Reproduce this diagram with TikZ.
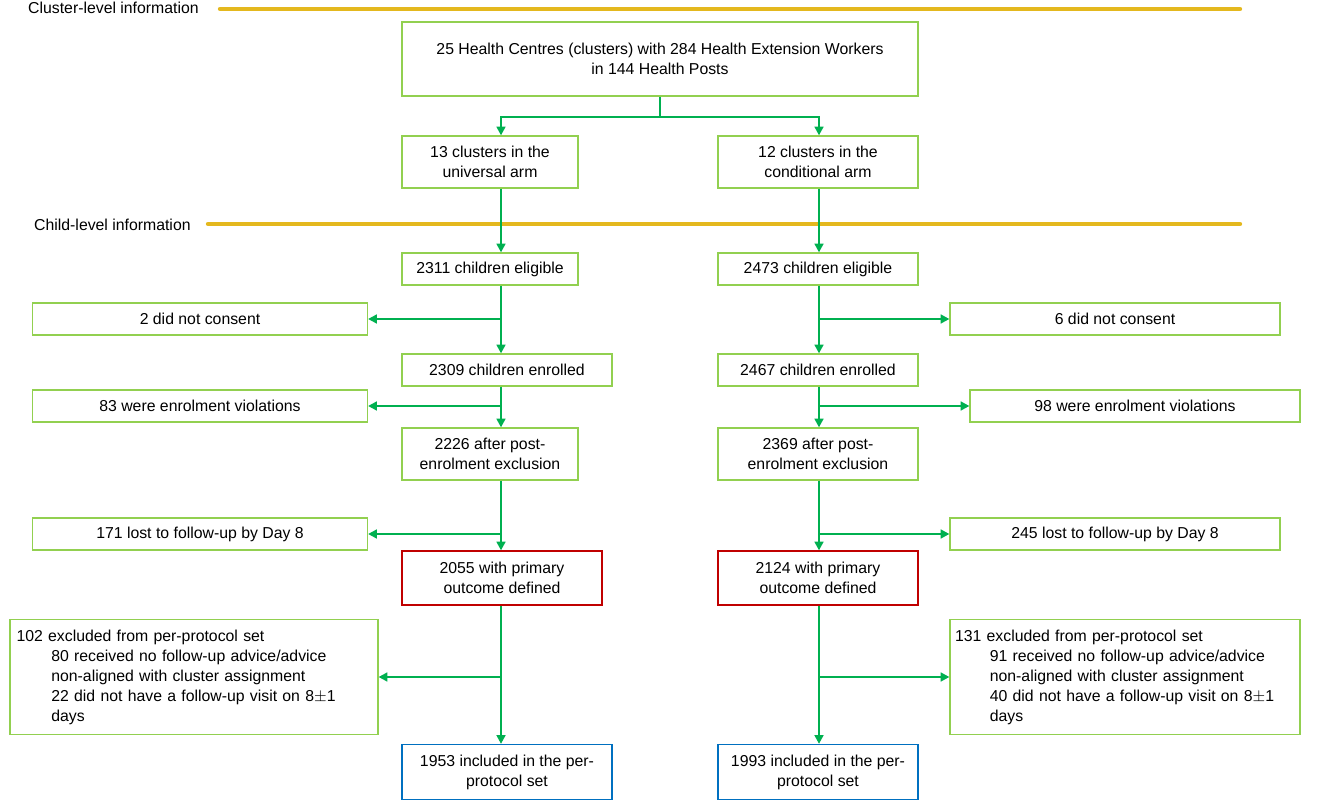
\documentclass[tikz,border=0pt]{standalone}
\usepackage{fontspec}
\setmainfont{Liberation Sans}
\usetikzlibrary{arrows.meta}
\definecolor{bgreen}{RGB}{146,208,80}
\definecolor{agreen}{RGB}{0,176,80}
\definecolor{ylw}{RGB}{228,184,30}
\definecolor{bred}{RGB}{192,0,0}
\definecolor{bblue}{RGB}{0,112,192}
\begin{document}
\begin{tikzpicture}[x=0.02cm,y=-0.02cm,
  every node/.style={font=\fontsize{9}{11.4}\selectfont},
  box/.style={draw=bgreen,line width=0.7pt,inner sep=0pt,align=center},
  rbox/.style={box,draw=bred},
  bbox/.style={box,draw=bblue},
  arr/.style={draw=agreen,line width=1.3pt,-{Triangle[length=5pt,width=5pt]}},
  ln/.style={draw=agreen,line width=1.3pt},
  yl/.style={draw=ylw,line width=2.5pt,line cap=round}]
\useasboundingbox (0,0) rectangle (1323,800);
\newcommand{\bx}[6][box]{\node[#1,minimum width={(#4-#3)*0.02cm},minimum height={(#6-#5)*0.02cm}] (#2) at ({(#3+#4)/2},{(#5+#6)/2}) {#2text};}
% headings
\node[anchor=west] (hc) at (22,8) {Cluster-level information};
\draw[yl] (220,9) -- (1240,9);
\node[anchor=west] (hd) at (28,225) {Child-level information};
\draw[yl] (208,224) -- (1240,224);
\coordinate (L) at (501,0); \coordinate (R) at (819,0);
% boxes
\node[box,minimum width=10.32cm,minimum height=1.48cm] (top) at (660,59) {25 Health Centres (clusters) with 284 Health Extension Workers\\in 144 Health Posts};
\node[box,minimum width=3.52cm,minimum height=1.04cm] (u) at (490,162) {13 clusters in the\\universal arm};
\node[box,minimum width=4cm,minimum height=1.04cm] (c) at (818,162) {12 clusters in the\\conditional arm};
\node[box,minimum width=3.52cm,minimum height=0.64cm] (e1) at (490,269) {2311 children eligible};
\node[box,minimum width=4cm,minimum height=0.64cm] (e2) at (818,269) {2473 children eligible};
\node[box,minimum width=6.7cm,minimum height=0.64cm] (n1) at (200,319) {2 did not consent};
\node[box,minimum width=6.6cm,minimum height=0.64cm] (n2) at (1115,319) {6 did not consent};
\node[box,minimum width=4.2cm,minimum height=0.64cm] (en1) at (507,370) {2309 children enrolled};
\node[box,minimum width=4cm,minimum height=0.64cm] (en2) at (818,370) {2467 children enrolled};
\node[box,minimum width=6.7cm,minimum height=0.64cm] (v1) at (200,406) {83 were enrolment violations};
\node[box,minimum width=6.6cm,minimum height=0.64cm] (v2) at (1135,406) {98 were enrolment violations};
\node[box,minimum width=3.52cm,minimum height=1.04cm] (p1) at (490,454) {2226 after post-\\enrolment exclusion};
\node[box,minimum width=4cm,minimum height=1.04cm] (p2) at (818,454) {2369 after post-\\enrolment exclusion};
\node[box,minimum width=6.7cm,minimum height=0.64cm] (l1) at (200,534) {171 lost to follow-up by Day 8};
\node[box,minimum width=6.6cm,minimum height=0.64cm] (l2) at (1115,534) {245 lost to follow-up by Day 8};
\node[rbox,minimum width=4cm,minimum height=1.08cm] (o1) at (502,578) {2055 with primary\\outcome defined};
\node[rbox,minimum width=4cm,minimum height=1.08cm] (o2) at (818,578) {2124 with primary\\outcome defined};
\node[box,minimum width=7.36cm,minimum height=2.3cm,align=left,text width=7.1cm] (x1) at (194,677) {102 excluded from per-protocol set\\
\hspace*{2.2em}80 received no follow-up advice/advice\\
\hspace*{2.2em}non-aligned with cluster assignment\\
\hspace*{2.2em}22 did not have a follow-up visit on 8$\pm$1\\
\hspace*{2.2em}days};
\node[box,minimum width=7cm,minimum height=2.3cm,align=left,text width=6.8cm] (x2) at (1125,677) {131 excluded from per-protocol set\\
\hspace*{2.2em}91 received no follow-up advice/advice\\
\hspace*{2.2em}non-aligned with cluster assignment\\
\hspace*{2.2em}40 did not have a follow-up visit on 8$\pm$1\\
\hspace*{2.2em}days};
\node[bbox,minimum width=4.2cm,minimum height=1.1cm] (f1) at (507,772) {1953 included in the per-\\protocol set};
\node[bbox,minimum width=4cm,minimum height=1.1cm] (f2) at (818,772) {1993 included in the per-\\protocol set};
% connectors
\coordinate (s) at (660,117);
\draw[ln] (top.south -| s) -- (s);
\draw[arr] (s) -| (u.north -| L);
\draw[arr] (s) -| (c.north -| R);
\foreach \a/\b/\X in {u/e1/L,e1/en1/L,en1/p1/L,p1/o1/L,o1/f1/L,c/e2/R,e2/en2/R,en2/p2/R,p2/o2/R,o2/f2/R}
  \draw[arr] (\a.south -| \X) -- (\b.north -| \X);
\foreach \b/\X in {n1/L,v1/L,l1/L,x1/L,n2/R,v2/R,l2/R,x2/R}
  \draw[arr] (\b.center -| \X) -- (\b);
\end{tikzpicture}
\end{document}
